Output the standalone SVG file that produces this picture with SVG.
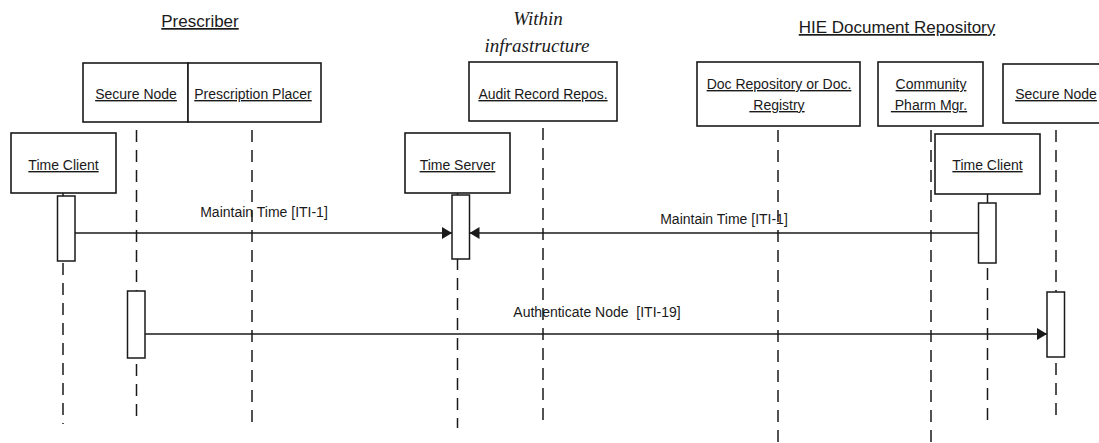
<svg xmlns="http://www.w3.org/2000/svg" width="1099" height="443" viewBox="0 0 1099 443">
  <style>
    .box { fill: #ffffff; stroke: #1a1a1a; stroke-width: 1.6; }
    .act { fill: #ffffff; stroke: #1a1a1a; stroke-width: 1.5; }
    .life { stroke: #1a1a1a; stroke-width: 1.5; stroke-dasharray: 12 8; fill: none; }
    .stem { stroke: #1a1a1a; stroke-width: 1.5; fill: none; }
    .msg { stroke: #1a1a1a; stroke-width: 1.6; fill: none; marker-end: url(#arr); }
    .t { font-family: "Liberation Sans", Arial, sans-serif; font-size: 14px; fill: #1a1a1a; text-anchor: middle; }
    .u { text-decoration: underline; white-space: pre; }
    .title { font-family: "Liberation Sans", Arial, sans-serif; font-size: 17px; fill: #1a1a1a; text-anchor: middle; text-decoration: underline; }
    .it { font-family: "Liberation Serif", "Times New Roman", serif; font-size: 19px; font-style: italic; fill: #1a1a1a; text-anchor: middle; }
  </style>
  <defs>
    <marker id="arr" viewBox="0 0 10 12" refX="10" refY="6" markerWidth="10" markerHeight="12" orient="auto" markerUnits="userSpaceOnUse">
      <path d="M0,0 L10,6 L0,12 z" fill="#1a1a1a"/>
    </marker>
  </defs>
  <rect width="1099" height="443" fill="#ffffff"/>

  <g id="titles">
    <text class="title" x="200" y="27">Prescriber</text>
    <text class="it" x="538" y="25">Within</text>
    <text class="it" x="537" y="52">infrastructure</text>
    <text class="title" x="897" y="33">HIE Document Repository</text>
  </g>

  <g id="node-time-client-left">
    <rect class="box" x="11" y="133" width="105" height="60"/>
    <text class="t u" x="63.5" y="170">Time Client</text>
    <line class="stem" x1="63" y1="193" x2="63" y2="196"/>
    <rect class="act" x="57.5" y="196" width="17.5" height="65"/>
    <line class="life" x1="63" y1="263" x2="63" y2="424"/>
  </g>

  <g id="node-secure-node-left">
    <rect class="box" x="83" y="63" width="105" height="59"/>
    <text class="t u" x="136" y="99">Secure Node</text>
    <line class="life" x1="136.5" y1="130" x2="136.5" y2="291"/>
    <rect class="act" x="127.5" y="291" width="17.5" height="67"/>
    <line class="life" x1="136.5" y1="364" x2="136.5" y2="424"/>
  </g>

  <g id="node-prescription-placer">
    <rect class="box" x="188" y="63" width="133" height="59"/>
    <text class="t u" x="253" y="99">Prescription Placer</text>
    <line class="life" x1="252" y1="130" x2="252" y2="424"/>
  </g>

  <g id="node-time-server">
    <rect class="box" x="405" y="133" width="105" height="60"/>
    <text class="t u" x="457.5" y="170">Time Server</text>
    <line class="stem" x1="457.5" y1="193" x2="457.5" y2="195"/>
    <rect class="act" x="452" y="195" width="17.5" height="64"/>
    <line class="stem" x1="457.5" y1="259" x2="457.5" y2="270"/>
    <line class="life" x1="457.5" y1="278" x2="457.5" y2="428"/>
  </g>

  <g id="node-audit-record-repos">
    <rect class="box" x="469" y="62" width="148" height="59"/>
    <text class="t u" x="543" y="99">Audit Record Repos.</text>
    <line class="life" x1="543" y1="128" x2="543" y2="424"/>
  </g>

  <g id="node-doc-repository">
    <rect class="box" x="697" y="62" width="163" height="64"/>
    <text class="t u" x="779" y="89">Doc Repository or Doc.</text>
    <text class="t u" x="777" y="110"> Registry</text>
    <line class="life" x1="778" y1="130" x2="778" y2="443"/>
  </g>

  <g id="node-community-pharm-mgr">
    <rect class="box" x="878" y="62" width="105" height="64"/>
    <text class="t u" x="931" y="89">Community</text>
    <text class="t u" x="929" y="110"> Pharm Mgr.</text>
    <line class="life" x1="931" y1="130" x2="931" y2="443"/>
  </g>

  <g id="node-time-client-right">
    <rect class="box" x="935" y="134" width="105" height="60"/>
    <text class="t u" x="987.5" y="170">Time Client</text>
    <line class="stem" x1="987.5" y1="194" x2="987.5" y2="203"/>
    <rect class="act" x="978.5" y="203" width="17.5" height="60"/>
    <line class="life" x1="987.5" y1="268" x2="987.5" y2="420"/>
  </g>

  <g id="node-secure-node-right">
    <rect class="box" x="1003" y="64" width="105" height="59"/>
    <text class="t u" x="1056" y="99">Secure Node</text>
    <line class="life" x1="1056" y1="130" x2="1056" y2="292"/>
    <rect class="act" x="1047" y="292" width="17.5" height="65"/>
    <line class="life" x1="1056" y1="363" x2="1056" y2="420"/>
  </g>

  <g id="connectors">
    <line class="msg" x1="75" y1="233" x2="452" y2="233"/>
    <text class="t" x="264" y="217">Maintain Time [ITI-1]</text>
    <line class="msg" x1="978.5" y1="233" x2="469.5" y2="233"/>
    <text class="t" x="724" y="224">Maintain Time [ITI-1]</text>
    <line class="msg" x1="145" y1="334" x2="1047" y2="334"/>
    <text class="t" x="597" y="317" style="white-space: pre">Authenticate Node  [ITI-19]</text>
  </g>
</svg>
